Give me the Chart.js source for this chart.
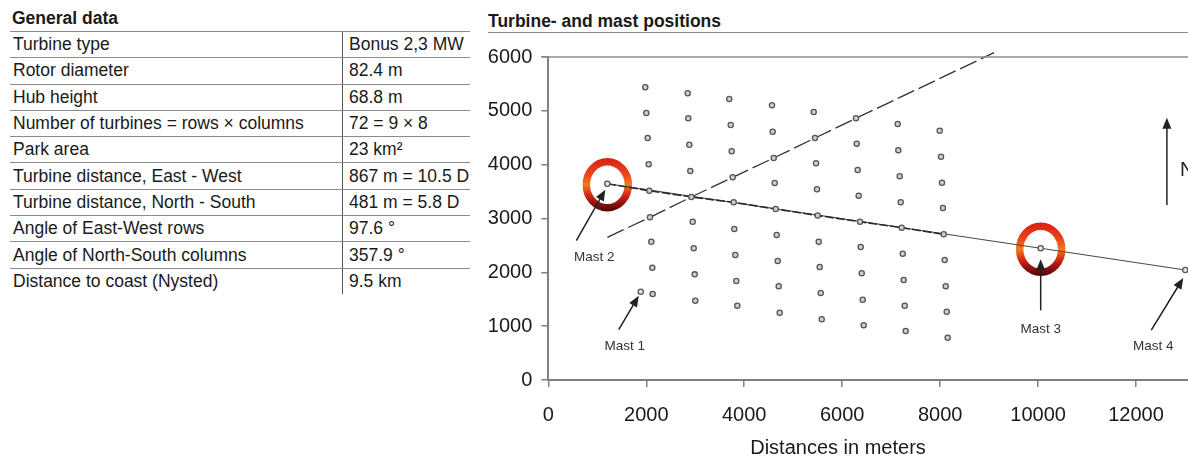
<!DOCTYPE html>
<html>
<head>
<meta charset="utf-8">
<script src="https://cdn.jsdelivr.net/npm/chart.js@4.4.1/dist/chart.umd.min.js"></script>
<style>
  body { margin: 0; width: 1188px; height: 460px; overflow: hidden; background: #fff; position: relative;
         font-family: "Liberation Sans", Arial, sans-serif; color: #1a1a1a; }
  #generalTitle { position: absolute; left: 12px; top: 8px; font-weight: bold; font-size: 17.5px; }
  #generalTable { position: absolute; left: 10px; top: 31px; width: 460px; }
  .row { height: 26.3px; box-sizing: border-box; border-top: 1.4px solid #8c8c8c; display: flex; font-size: 17.5px; }
  .row .k { width: 332px; padding-left: 3px; box-sizing: border-box; display: flex; align-items: center; }
  .row .v { flex: 1; padding-left: 6px; border-left: 1px solid #555; display: flex; align-items: center; }
  #chartTitle { position: absolute; left: 488px; top: 11px; width: 700px; height: 21px; font-weight: bold;
                font-size: 17.5px; border-bottom: 1.5px solid #8c8c8c; }
  #chartBox { position: absolute; left: 480px; top: 0; width: 770px; height: 460px; }
</style>
</head>
<body>
<div id="generalTitle">General data</div>
<div id="generalTable"></div>
<div id="chartTitle">Turbine- and mast positions</div>
<div id="chartBox"><canvas id="posicoes"></canvas></div>
<script>
// tabela "General data"
const tableLabels = ['Turbine type', 'Rotor diameter', 'Hub height', 'Number of turbines = rows \u00d7 columns',
    'Park area', 'Turbine distance, East - West', 'Turbine distance, North - South',
    'Angle of East-West rows', 'Angle of North-South columns', 'Distance to coast (Nysted)'];
const tableValues = ['Bonus 2,3 MW', '82.4 m', '68.8 m', '72 = 9 \u00d7 8', '23 km\u00b2', '867 m = 10.5 D',
    '481 m = 5.8 D', '97.6 \u00b0', '357.9 \u00b0', '9.5 km'];

// turbinas, uma lista por coluna (de norte para sul), [x, y] em metros
const turbineColumns = [
    [[1980, 5437], [2001, 4960], [2029, 4495], [2050, 4007], [2062, 3516], [2076, 3022], [2103, 2569], [2123, 2086], [2131, 1598]],
    [[2846, 5326], [2858, 4861], [2879, 4371], [2899, 3882], [2920, 3399], [2948, 2941], [2969, 2446], [2989, 1963], [3001, 1473]],
    [[3695, 5220], [3724, 4737], [3744, 4248], [3765, 3765], [3785, 3301], [3797, 2805], [3818, 2322], [3838, 1839], [3859, 1380]],
    [[4567, 5103], [4581, 4612], [4602, 4124], [4622, 3660], [4643, 3176], [4663, 2694], [4684, 2211], [4704, 1741], [4724, 1250]],
    [[5419, 4978], [5445, 4495], [5466, 4025], [5486, 3542], [5500, 3056], [5521, 2569], [5541, 2099], [5562, 1616], [5582, 1128]],
    [[6282, 4861], [6297, 4390], [6317, 3901], [6337, 3424], [6364, 2941], [6378, 2470], [6399, 1982], [6419, 1492], [6439, 1016]],
    [[7134, 4755], [7146, 4267], [7174, 3784], [7195, 3301], [7215, 2829], [7236, 2346], [7256, 1858], [7277, 1380], [7297, 910]],
    [[7991, 4631], [8018, 4148], [8038, 3665], [8058, 3195], [8073, 2707], [8093, 2229], [8114, 1741], [8134, 1269], [8154, 786]]
];

// mastros
const mastNames = ['Mast 1', 'Mast 2', 'Mast 3', 'Mast 4'];
const mastX = [1887, 1205, 10053, 13005];
const mastY = [1640, 3646, 2446, 2043];
const ringedMasts = [1, 2];

// linha diagonal tracejada: inicio, turbinas que ela cruza, fim
const diagonalStart = [1205, 2651];
const diagonalEnd = [9100, 6080];
const diagonalHits = [[0, 5], [1, 4], [2, 3], [3, 2], [4, 1], [5, 0]]; // [coluna, linha]
const lineRow = 4;

const xTicks = [0, 2000, 4000, 6000, 8000, 10000, 12000];

// montar a tabela
const tabela = document.getElementById('generalTable');
tableLabels.forEach((label, i) => {
    const row = document.createElement('div');
    row.className = 'row';
    row.innerHTML = `<div class="k">${label}</div><div class="v">${tableValues[i]}</div>`;
    tabela.appendChild(row);
});

const pt = p => ({ x: p[0], y: p[1] });
const turbinas = turbineColumns.flat().map(pt);
const mastros = mastX.map((x, i) => ({ x: x, y: mastY[i] }));
const linhaFileira = [mastros[1]].concat(turbineColumns.map(c => pt(c[lineRow])));
const linhaMastros = [mastros[1], mastros[2], mastros[3]];
const linhaDiagonal = [pt(diagonalStart)].concat(diagonalHits.map(h => pt(turbineColumns[h[0]][h[1]])), [pt(diagonalEnd)]);

const fonte = '"Liberation Sans", Arial, sans-serif';

// setas e textos dos mastros, deslocamentos em pixels a partir do ponto
const callouts = [
    { tail: [-22, 38], tip: [-2, 4], label: [-16, 55] },
    { tail: [-31, 57], tip: [-2, 6], label: [-13, 74] },
    { tail: [0, 62], tip: [0, 11], label: [0, 81] },
    { tail: [-34, 60], tip: [-2, 8], label: [-32, 76] }
];
const northArrow = { x: 12630, y0: 3250, y1: 4870 };

function seta(ctx, x1, y1, x2, y2) {
    const a = Math.atan2(y2 - y1, x2 - x1), L = 11, W = 4.5;
    ctx.beginPath();
    ctx.moveTo(x1, y1);
    ctx.lineTo(x2 - L * 0.8 * Math.cos(a), y2 - L * 0.8 * Math.sin(a));
    ctx.stroke();
    ctx.beginPath();
    ctx.moveTo(x2, y2);
    ctx.lineTo(x2 - L * Math.cos(a) + W * Math.sin(a), y2 - L * Math.sin(a) - W * Math.cos(a));
    ctx.lineTo(x2 - L * Math.cos(a) - W * Math.sin(a), y2 - L * Math.sin(a) + W * Math.cos(a));
    ctx.closePath();
    ctx.fill();
}

const extras = {
    id: 'extras',
    beforeDatasetsDraw(chart) {
        const { ctx, scales: { x, y } } = chart;
        ctx.save();
        ringedMasts.forEach(i => {
            const cx = x.getPixelForValue(mastX[i]);
            const cy = y.getPixelForValue(mastY[i]) + 1;
            const g = ctx.createLinearGradient(cx, cy - 27, cx, cy + 27);
            g.addColorStop(0, '#d61e16');
            g.addColorStop(0.3, '#ec4418');
            g.addColorStop(0.5, '#f07a22');
            g.addColorStop(0.68, '#d82a14');
            g.addColorStop(0.85, '#8e1010');
            g.addColorStop(1, '#4a0505');
            ctx.strokeStyle = g;
            ctx.lineWidth = 7.5;
            ctx.beginPath();
            ctx.ellipse(cx, cy, 21, 23, 0, 0, Math.PI * 2);
            ctx.stroke();
        });
        ctx.restore();
    },
    afterDatasetsDraw(chart) {
        const { ctx, chartArea, scales: { x, y } } = chart;
        ctx.save();
        // borda de cima
        ctx.strokeStyle = '#8c8c8c';
        ctx.lineWidth = 1.5;
        ctx.beginPath();
        ctx.moveTo(chartArea.left - 7, chartArea.top);
        ctx.lineTo(chartArea.right, chartArea.top);
        ctx.stroke();

        ctx.strokeStyle = '#222';
        ctx.fillStyle = '#222';
        ctx.lineWidth = 1.5;
        ctx.font = '13.5px ' + fonte;
        ctx.textAlign = 'center';
        ctx.textBaseline = 'middle';
        mastNames.forEach((nome, i) => {
            const px = x.getPixelForValue(mastX[i]);
            const py = y.getPixelForValue(mastY[i]);
            const c = callouts[i];
            seta(ctx, px + c.tail[0], py + c.tail[1], px + c.tip[0], py + c.tip[1]);
            ctx.fillStyle = '#333';
            ctx.fillText(nome, px + c.label[0], py + c.label[1]);
            ctx.fillStyle = '#222';
        });

        // seta do norte
        const nx = x.getPixelForValue(northArrow.x);
        seta(ctx, nx, y.getPixelForValue(northArrow.y0), nx, y.getPixelForValue(northArrow.y1));
        ctx.font = '20px ' + fonte;
        ctx.textAlign = 'left';
        ctx.fillText('N', nx + 13, y.getPixelForValue(3900));

        // titulo do eixo x
        ctx.font = '20px ' + fonte;
        ctx.textAlign = 'center';
        ctx.fillStyle = '#1a1a1a';
        ctx.fillText('Distances in meters', x.getPixelForValue(5915), chartArea.bottom + 68);
        ctx.restore();
    }
};

Chart.defaults.font.family = fonte;
Chart.defaults.color = '#1a1a1a';

new Chart(document.getElementById('posicoes'), {
    type: 'scatter',
    data: {
        datasets: [
            {
                data: turbinas,
                pointRadius: 2.6,
                borderWidth: 1.3,
                borderColor: '#555',
                backgroundColor: '#cfcfcf',
                order: 1
            },
            {
                data: mastros,
                pointRadius: 2.6,
                borderWidth: 1.3,
                borderColor: '#555',
                backgroundColor: '#e6e6e6',
                order: 1
            },
            {
                data: linhaFileira,
                showLine: true,
                pointRadius: 0,
                borderColor: '#2a2a2a',
                borderWidth: 1.6,
                borderDash: [9, 2],
                order: 3
            },
            {
                data: linhaMastros,
                showLine: true,
                pointRadius: 0,
                borderColor: '#4a4a4a',
                borderWidth: 1.1,
                order: 4
            },
            {
                data: linhaDiagonal,
                showLine: true,
                pointRadius: 0,
                borderColor: '#333',
                borderWidth: 1.3,
                borderDash: [18, 5],
                clip: 8,
                order: 2
            }
        ]
    },
    options: {
        responsive: true,
        maintainAspectRatio: false,
        animation: false,
        layout: { padding: { top: 57, left: 0, right: 0, bottom: 0 } },
        plugins: {
            legend: { display: false },
            tooltip: { enabled: false },
            title: { display: false }
        },
        scales: {
            x: {
                type: 'linear',
                min: 0,
                max: 14000,
                afterBuildTicks: s => { s.ticks = xTicks.concat([14000]).map(v => ({ value: v })); },
                afterFit: s => { s.height = 80; },
                ticks: {
                    padding: 16,
                    maxRotation: 0,
                    autoSkip: false,
                    font: { size: 20 },
                    callback: v => (xTicks.includes(v) ? String(v) : '')
                },
                grid: { drawOnChartArea: false, drawTicks: true, tickLength: 7, color: '#808080', lineWidth: 1.5 },
                border: { color: '#808080', width: 2 }
            },
            y: {
                min: 0,
                max: 6000,
                afterFit: s => { s.width = 68.3; },
                ticks: {
                    stepSize: 1000,
                    padding: 9,
                    font: { size: 20 },
                    callback: v => String(v)
                },
                grid: { drawOnChartArea: false, drawTicks: true, tickLength: 7, color: '#808080', lineWidth: 1.5 },
                border: { color: '#808080', width: 2 }
            }
        }
    },
    plugins: [extras]
});
</script>
</body>
</html>
